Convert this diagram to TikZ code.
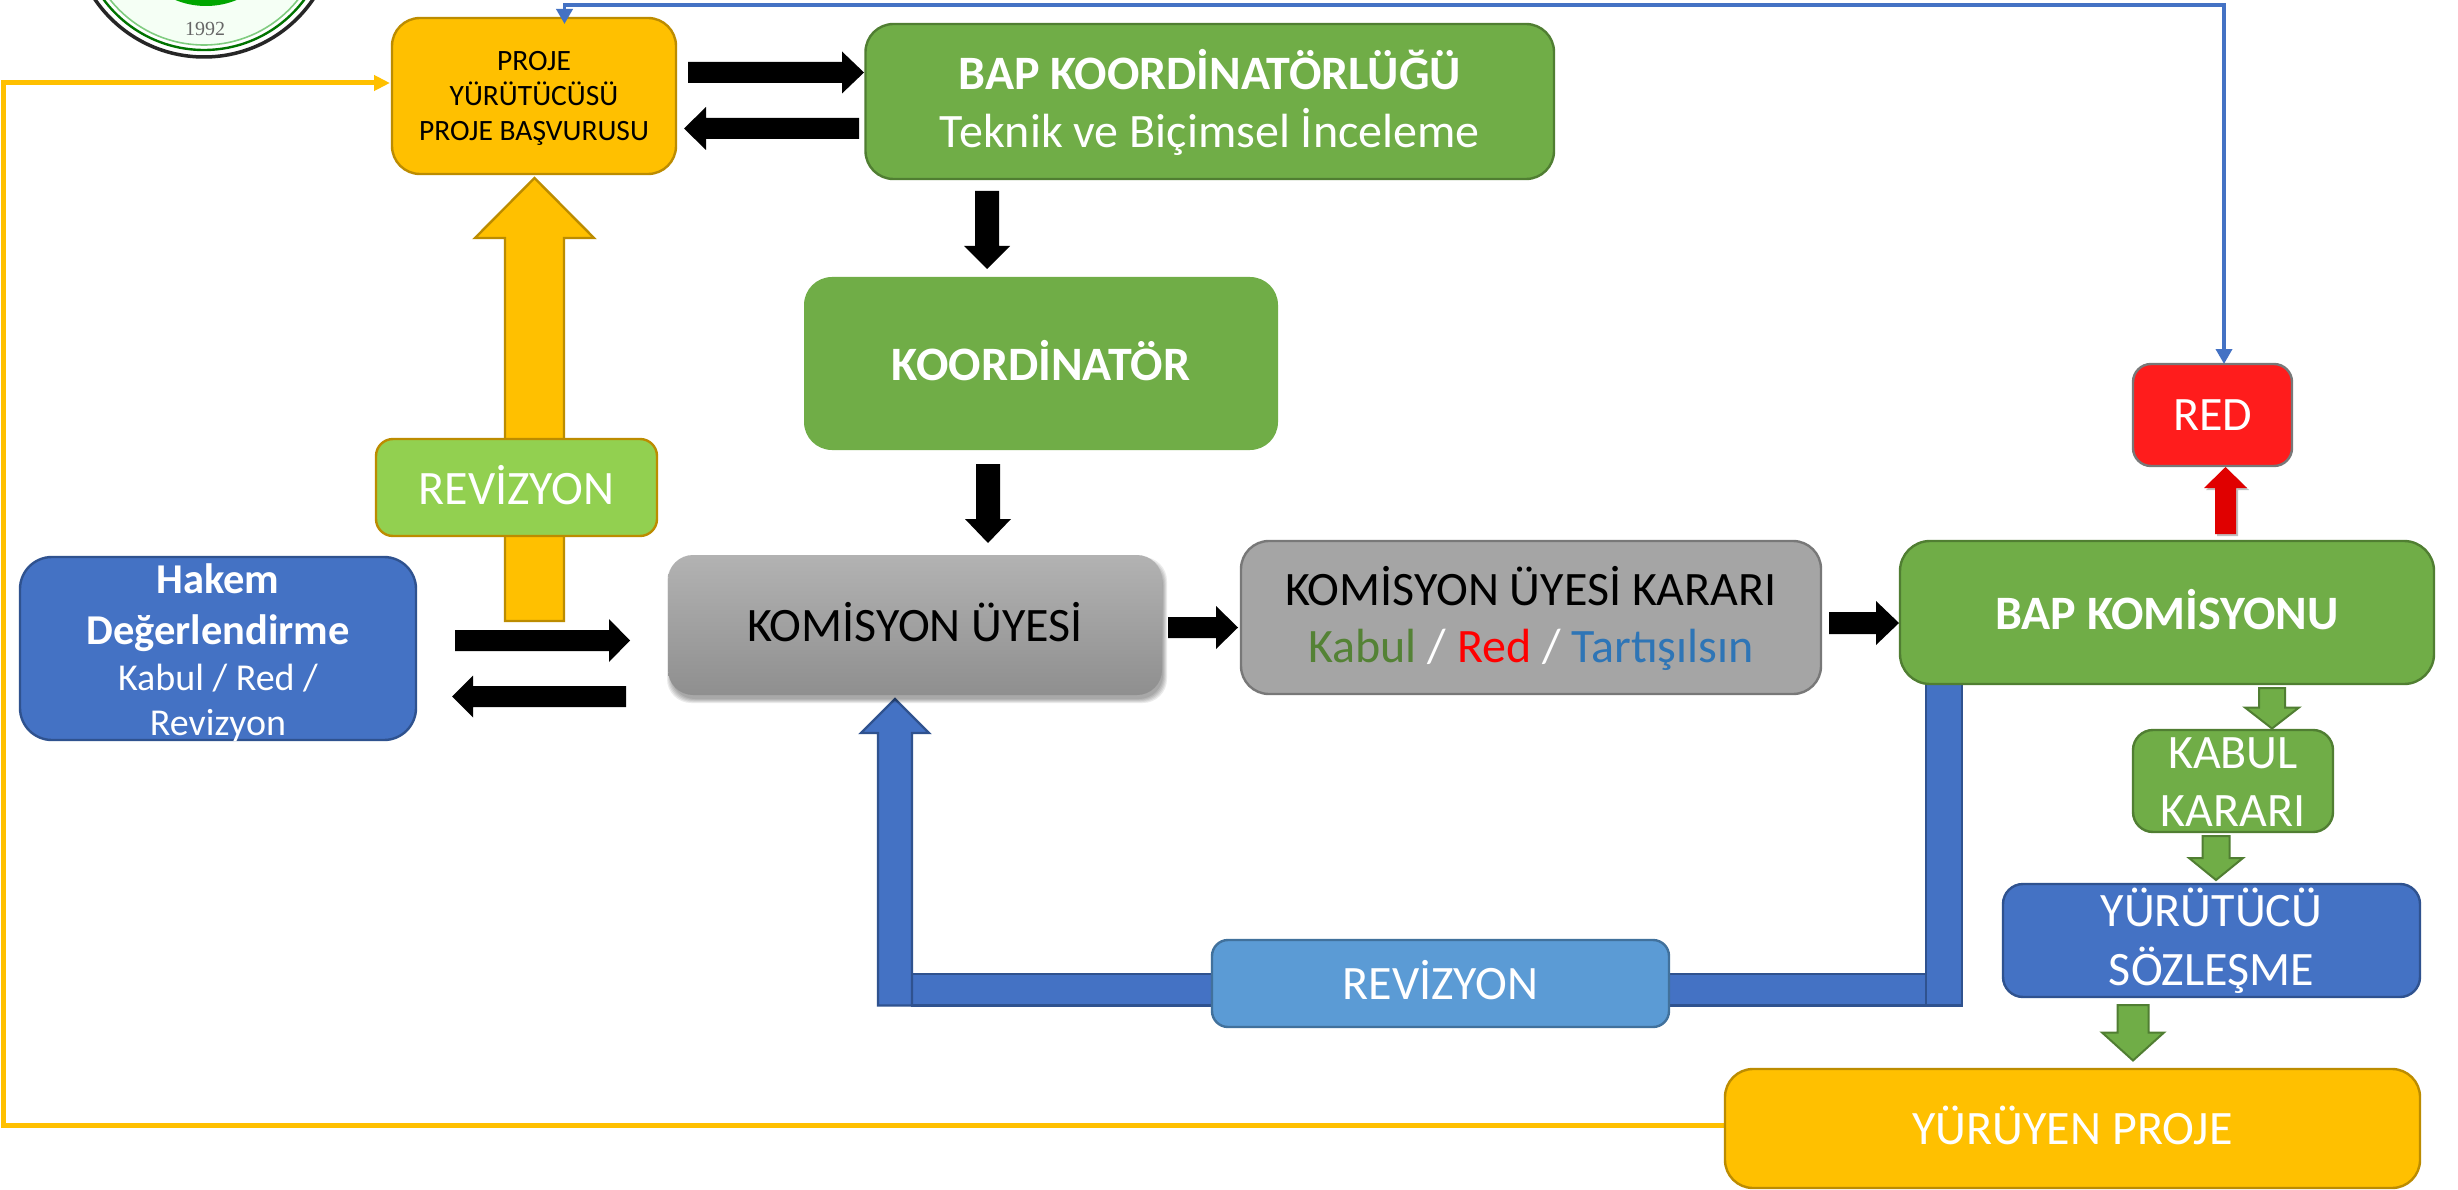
\documentclass[tikz,border=0pt]{standalone}
\usepackage{fontspec}
\setmainfont{Carlito}
\newfontfamily\logofont{Liberation Serif}
\usetikzlibrary{calc,arrows.meta,shadows}
\newcommand{\fz}[1]{\pgfmathsetlengthmacro\fzl{#1*1.22}\fontsize{#1}{\fzl}\selectfont}
\newcommand{\nudge}[2]{\raisebox{#1pt}[\height][\depth]{#2}}
\newsavebox{\linesbox}
\newcommand{\lines}[2]{\sbox{\linesbox}{\begin{tabular}{@{}c@{}}#2\end{tabular}}%
  \raisebox{\dimexpr #1pt-(\ht\linesbox-\dp\linesbox)/2\relax}[0pt][0pt]{\usebox{\linesbox}}}
\definecolor{cgreen}{HTML}{70AD47}\definecolor{cgreenb}{HTML}{507E32}
\definecolor{cyel}{HTML}{FFC000}\definecolor{cyelb}{HTML}{BC8C00}
\definecolor{cblue}{HTML}{4472C4}\definecolor{cblueb}{HTML}{2F528F}
\definecolor{clblue}{HTML}{5B9BD5}\definecolor{clblueb}{HTML}{41719C}
\definecolor{cgrey}{HTML}{A5A5A5}\definecolor{cgreyb}{HTML}{787878}
\definecolor{cred}{HTML}{FF1C1C}\definecolor{carred}{HTML}{E00000}
\definecolor{clime}{HTML}{92D050}
\definecolor{ktxt}{HTML}{548235}\definecolor{ttxt}{HTML}{2E75B6}
\tikzset{
  x=1pt,y=-1pt,
  box/.style n args={4}{rectangle,inner sep=0pt,outer sep=0pt,align=center,line width=2.4pt,
    minimum width={(#3-#1)*1pt},minimum height={(#4-#2)*1pt},
    at={({(#1+#3)/2},{(#2+#4)/2})}},
  greenbox/.style={draw=cgreenb,fill=cgreen,text=white,rounded corners=28pt},
  yelbox/.style={draw=cyelb,fill=cyel,rounded corners=28pt},
  bluebox/.style={draw=cblueb,fill=cblue,text=white,rounded corners=20pt},
  greybox/.style={draw=cgreyb,fill=cgrey,rounded corners=28pt},
  blackarr/.style={fill=black},
  greenarr/.style={fill=cgreen,draw=cgreenb,line width=2pt,line join=miter},
  yelarr/.style={fill=cyel,draw=cyelb,line width=2.4pt,line join=miter},
  bluearr/.style={fill=cblue,draw=cblueb,line width=2.4pt,line join=miter},
  redarr/.style={fill=carred,drop shadow={shadow xshift=2pt,shadow yshift=-2pt,opacity=.25,fill=black}},
  thinblue/.style={draw=cblue,line width=3.6pt,{Triangle[length=15pt,width=16pt]}-{Triangle[length=15pt,width=16pt]}},
  thinyel/.style={draw=cyel,line width=5pt,-{Triangle[length=16pt,width=15pt]}},
}
% block arrow from (#2) to (#3): shaft width #4, head width #5, head length #6
\newcommand{\blockarr}[6]{%
  \coordinate (tmpc) at ($(#3)!#6pt!(#2)$);
  \path[#1] ($(#2)!#4pt/2!90:(#3)$) -- ($(tmpc)!#4pt/2!-90:(#2)$) -- ($(tmpc)!#5pt/2!-90:(#2)$)
     -- (#3) -- ($(tmpc)!#5pt/2!90:(#2)$) -- ($(tmpc)!#4pt/2!90:(#2)$) -- ($(#2)!#4pt/2!-90:(#3)$) -- cycle;
}
\begin{document}
\begin{tikzpicture}
\useasboundingbox (0,0) rectangle (2458,1190);
\begin{scope}
\clip (0,0) rectangle (2458,1190);
\fill[white] (0,0) rectangle (2458,1190);
% logo
\fill[white] (204,-75) circle (145);
\draw[black!85,line width=3.5pt,fill=white] (204,-75) circle (132);
\draw[green!45!black,line width=2.4pt,fill=white] (204,-75) circle (125);
\draw[green!60!black!50,line width=1.6pt,fill=green!4] (204,-75) circle (120);
\fill[green!65!black] (206,-75) circle (81);
\node[font=\logofont\fz{20},text=black!60,inner sep=0pt] (yr) at (205,29) {1992};
\end{scope}

% named free ends of the block arrows
\coordinate (a1s) at (688,72.5);  \coordinate (a1e) at (864,72.5);
\coordinate (a2s) at (859,128.5); \coordinate (a2e) at (684,128.5);
\coordinate (a3s) at (987,191);   \coordinate (a3e) at (987,269);
\coordinate (a4s) at (988,464);   \coordinate (a4e) at (988,543);
\coordinate (a5s) at (455,640.5); \coordinate (a5e) at (630,640.5);
\coordinate (a6s) at (626,696.5); \coordinate (a6e) at (452,696.5);
\coordinate (a7s) at (1168,627.5);\coordinate (a7e) at (1238,627.5);
\coordinate (a8s) at (1829,623);  \coordinate (a8e) at (1899,623);
\coordinate (a9s) at (2225.5,534);\coordinate (a9e) at (2225.5,467);
\coordinate (a10s) at (2272,688); \coordinate (a10e) at (2272,728.5);
\coordinate (a11s) at (2216,836); \coordinate (a11e) at (2216,880);
\coordinate (a12s) at (2133,1005);\coordinate (a12e) at (2133,1060.5);
\coordinate (y1s) at (534.5,621); \coordinate (y1e) at (534.5,178);

% thin connectors behind boxes
\coordinate (redtop) at (2224,364);
\coordinate (projtop) at (564.5,24);
\coordinate (cornerA) at (2224,5);
\coordinate (cornerB) at (564.5,5);
\coordinate (yurleft) at (1726,1125.5);
\coordinate (cornerC) at (3,1125.5);
\coordinate (cornerD) at (3,83);
\coordinate (projleft) at (390,83);
\draw[thinyel] (yurleft) -- (cornerC) -- (cornerD) -- (projleft);

% large bent blue arrow
\draw[bluearr] (912,974) rectangle (1926,1005.5);
\draw[bluearr] (1926,660) rectangle (1962,1005.5);
\coordinate (b1s) at (895,1005.5); \coordinate (b1e) at (895,699);
\blockarr{bluearr}{b1s}{b1e}{34}{68}{34}

% yellow up arrow
\blockarr{yelarr}{y1s}{y1e}{59}{119}{60}

% soft shadow of the grey gradient box
\foreach \s in {0,1,2,3,4}
  \fill[black,opacity=.08,rounded corners=24pt] ({671-\s},{561-\s}) rectangle ({1163+\s},{699+\s});

% boxes
\node[box={392}{18}{676}{174},yelbox,font=\fz{29.5}] (proj) {\lines{-2.5}{PROJE\\[-1pt]YÜRÜTÜCÜSÜ\\[-1pt]PROJE BAŞVURUSU}};
\node[box={865.5}{24}{1554}{179},greenbox,font=\fz{48}] (koord) {\lines{-5.5}{{\bfseries BAP KOORDİNATÖRLÜĞÜ}\\{}Teknik ve Biçimsel İnceleme}};
\node[box={804}{277}{1278}{450},greenbox,draw=none,font=\bfseries\fz{48}] (koor) {\nudge{3}{KOORDİNATÖR}};
\node[box={376}{439}{657}{536},greenbox,fill=clime,draw=cyelb,rounded corners=17pt,font=\fz{48}] (rev1) {\nudge{2.5}{REVİZYON}};
\node[box={20}{557}{416}{740},bluebox,rounded corners=32pt,font=\fz{42.5}] (hakem) {\lines{-5.5}{{\bfseries Hakem}\\[-1pt]{\bfseries Değerlendirme}\\[-6pt]{\fz{38}Kabul / Red /}\\[-7pt]{\fz{38}Revizyon}}};
\node[box={668}{555}{1162}{695},rounded corners=25pt,top color=black!30,bottom color=black!44,draw=none,font=\fz{48}] (uye) {\nudge{3}{KOMİSYON ÜYESİ}};
\node[box={1241}{541}{1821}{694},greybox,font=\fz{48}] (karar) {\lines{-5}{KOMİSYON ÜYESİ KARARI\\[-1pt]\textcolor{ktxt}{Kabul} \textcolor{white}{/} \textcolor{red}{Red} \textcolor{white}{/} \textcolor{ttxt}{Tartışılsın}}};
\node[box={1900}{541}{2434}{684},greenbox,rounded corners=30pt,font=\bfseries\fz{48}] (bapk) {\nudge{3}{BAP KOMİSYONU}};
\node[box={2133}{364}{2292}{466},rounded corners=18pt,fill=cred,draw=cgreyb,text=white,font=\fz{48}] (red) {RED};
\node[box={2133}{730}{2333}{832},greenbox,rounded corners=20pt,font=\fz{48}] (kabul) {\lines{-4.6}{KABUL\\KARARI}};
\node[box={2003}{884}{2420}{997},bluebox,font=\fz{48}] (sozl) {\lines{-4}{YÜRÜTÜCÜ\\SÖZLEŞME}};
\node[box={1725}{1069}{2420}{1188},yelbox,text=white,font=\fz{48}] (yur) {\nudge{3}{YÜRÜYEN PROJE}};
\node[box={1212}{940}{1669}{1027},rounded corners=16pt,fill=clblue,draw=clblueb,text=white,font=\fz{48}] (rev2) {\nudge{3}{REVİZYON}};

% thin blue connector from RED back to the project box
\draw[thinblue] (redtop) -- (cornerA) -- (cornerB) -- (projtop);

% block arrows
\blockarr{blackarr}{a1s}{a1e}{21}{42}{22}
\blockarr{blackarr}{a2s}{a2e}{21}{43}{22}
\blockarr{blackarr}{a3s}{a3e}{24}{46}{23}
\blockarr{blackarr}{a4s}{a4e}{24}{46}{24}
\blockarr{blackarr}{a5s}{a5e}{21}{43}{21}
\blockarr{blackarr}{a6s}{a6e}{21}{42}{21}
\blockarr{blackarr}{a7s}{a7e}{21}{43}{22}
\blockarr{blackarr}{a8s}{a8e}{22}{44}{23}
\blockarr{redarr}{a9s}{a9e}{21}{43}{21}
\blockarr{greenarr}{a10s}{a10e}{26}{54}{21}
\blockarr{greenarr}{a11s}{a11e}{27}{54}{22}
\blockarr{greenarr}{a12s}{a12e}{31}{62}{28}
\end{tikzpicture}
\end{document}
